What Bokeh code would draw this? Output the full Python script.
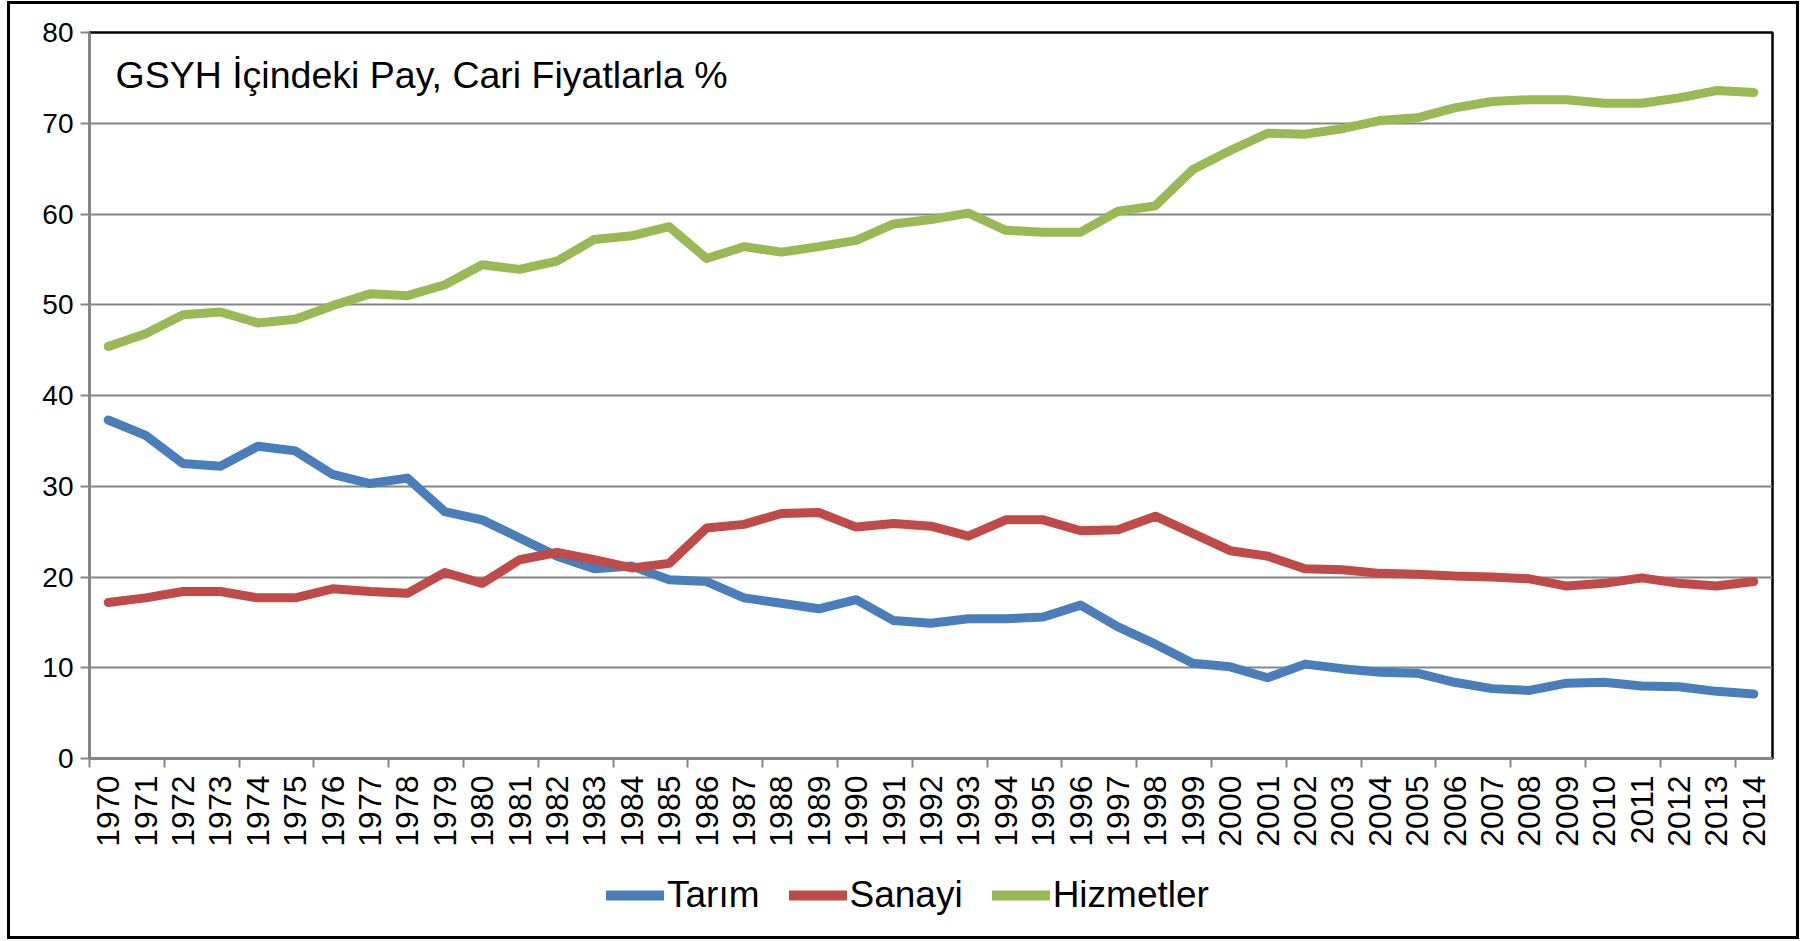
from bokeh.plotting import figure
from bokeh.layouts import column
from bokeh.models import Range1d, FixedTicker, Legend, LegendItem, Label, ColumnDataSource
from bokeh.embed import file_html
from bokeh.resources import INLINE
import math

years = list(range(1970, 2015))
tarim = [37.3, 35.6, 32.5, 32.2, 34.4, 33.9, 31.3, 30.3, 30.9, 27.2,
         26.3, 24.3, 22.3, 20.9, 21.2, 19.7, 19.5, 17.7, 17.1, 16.5,
         17.5, 15.2, 14.9, 15.4, 15.4, 15.6, 16.9, 14.5, 12.6, 10.5,
         10.1, 8.9, 10.4, 9.9, 9.5, 9.4, 8.4, 7.7, 7.5, 8.3,
         8.4, 8.0, 7.9, 7.4, 7.1]
sanayi = [17.2, 17.7, 18.4, 18.4, 17.7, 17.7, 18.7, 18.4, 18.2, 20.5,
          19.3, 21.9, 22.7, 21.9, 21.0, 21.5, 25.4, 25.8, 27.0, 27.1,
          25.5, 25.9, 25.6, 24.5, 26.3, 26.3, 25.1, 25.2, 26.7, 24.8,
          22.9, 22.3, 20.9, 20.8, 20.4, 20.3, 20.1, 20.0, 19.8, 19.0,
          19.3, 19.9, 19.3, 19.0, 19.5]
hizmetler = [45.4, 46.8, 48.9, 49.2, 48.0, 48.4, 49.9, 51.2, 51.0, 52.2,
             54.4, 53.9, 54.8, 57.2, 57.6, 58.6, 55.1, 56.4, 55.8, 56.4,
             57.1, 58.9, 59.4, 60.1, 58.2, 58.0, 58.0, 60.3, 60.9, 64.9,
             67.0, 68.9, 68.8, 69.4, 70.3, 70.6, 71.7, 72.4, 72.6, 72.6,
             72.2, 72.2, 72.8, 73.6, 73.4]
series_cols = ["tarim", "sanayi", "hizmetler"]
series_names = ["Tarım", "Sanayi", "Hizmetler"]
series_colors = ["#4A7EBB", "#BE4B48", "#98B954"]
y_ticks = [0, 10, 20, 30, 40, 50, 60, 70, 80]
title_text = "GSYH İçindeki Pay, Cari Fiyatlarla %"

FONT = "Liberation Sans"
GREY = "#868686"
LW = 9

src = ColumnDataSource(dict(year=years, tarim=tarim, sanayi=sanayi, hizmetler=hizmetler))

# ---------------- main chart ----------------
p = figure(width=1786, height=845, output_backend="svg", toolbar_location=None,
           x_range=Range1d(years[0] - 0.5, years[-1] + 0.5), y_range=Range1d(0, 80),
           min_border_left=79, min_border_top=28, min_border_right=24, min_border_bottom=90)
p.outline_line_color = "black"
p.outline_line_width = 2.5
p.background_fill_color = "white"
p.border_fill_color = "white"

for col, color in zip(series_cols, series_colors):
    p.line("year", col, source=src, line_color=color, line_width=LW,
           line_cap="round", line_join="round")

p.xgrid.visible = False
p.ygrid.ticker = FixedTicker(ticks=y_ticks)
p.ygrid.grid_line_color = GREY
p.ygrid.grid_line_width = 2

ya = p.yaxis[0]
ya.ticker = FixedTicker(ticks=y_ticks)
ya.axis_line_color = GREY
ya.axis_line_width = 3
ya.major_tick_line_color = GREY
ya.major_tick_line_width = 2
ya.major_tick_out = 9
ya.major_tick_in = 0
ya.minor_tick_line_color = None
ya.major_label_standoff = 7
ya.major_label_text_font = FONT
ya.major_label_text_font_size = "28px"
ya.major_label_text_color = "black"

minor = [years[0] - 0.5 + 2 * k for k in range(23)]
xa = p.xaxis[0]
xa.ticker = FixedTicker(ticks=years, minor_ticks=minor)
xa.axis_line_color = GREY
xa.axis_line_width = 3
xa.major_tick_line_color = None
xa.major_tick_out = 0
xa.major_tick_in = 0
xa.minor_tick_line_color = GREY
xa.minor_tick_line_width = 2
xa.minor_tick_out = 9
xa.minor_tick_in = 0
xa.major_label_orientation = math.pi / 2
xa.major_label_standoff = 8
xa.major_label_text_font = FONT
xa.major_label_text_font_size = "32px"
xa.major_label_text_color = "black"

p.add_layout(Label(x=26, y=684, x_units="screen", y_units="screen", text=title_text,
                   text_font=FONT, text_font_size="37.5px", text_color="black",
                   text_baseline="alphabetic"))

# ---------------- legend strip ----------------
lg = figure(width=1786, height=87, output_backend="svg", toolbar_location=None,
            x_range=Range1d(0, 1), y_range=Range1d(0, 1),
            x_axis_location=None, y_axis_location=None,
            min_border_left=0, min_border_right=0, min_border_top=0, min_border_bottom=0)
lg.grid.visible = False
lg.outline_line_color = None
lg.background_fill_color = "white"
lg.border_fill_color = "white"
leg_renderers = []
for col, color in zip(series_cols, series_colors):
    leg_renderers.append(lg.line("year", col, source=src, line_color=color, line_width=10,
                                 line_cap="round", line_join="round"))

legend = Legend(items=[LegendItem(label=n, renderers=[r]) for n, r in zip(series_names, leg_renderers)],
                orientation="horizontal", location=(517, 20),
                glyph_width=58, glyph_height=30, label_standoff=3, spacing=29,
                padding=0, margin=0, border_line_color=None, background_fill_alpha=0,
                label_text_font=FONT, label_text_font_size="37px", label_text_color="black")
lg.add_layout(legend, "center")

layout = column(p, lg, spacing=0)
layout.styles = {"border": "3px solid black", "margin-left": "7px", "margin-top": "1px"}

open("out.html", "w").write(file_html(layout, INLINE))
